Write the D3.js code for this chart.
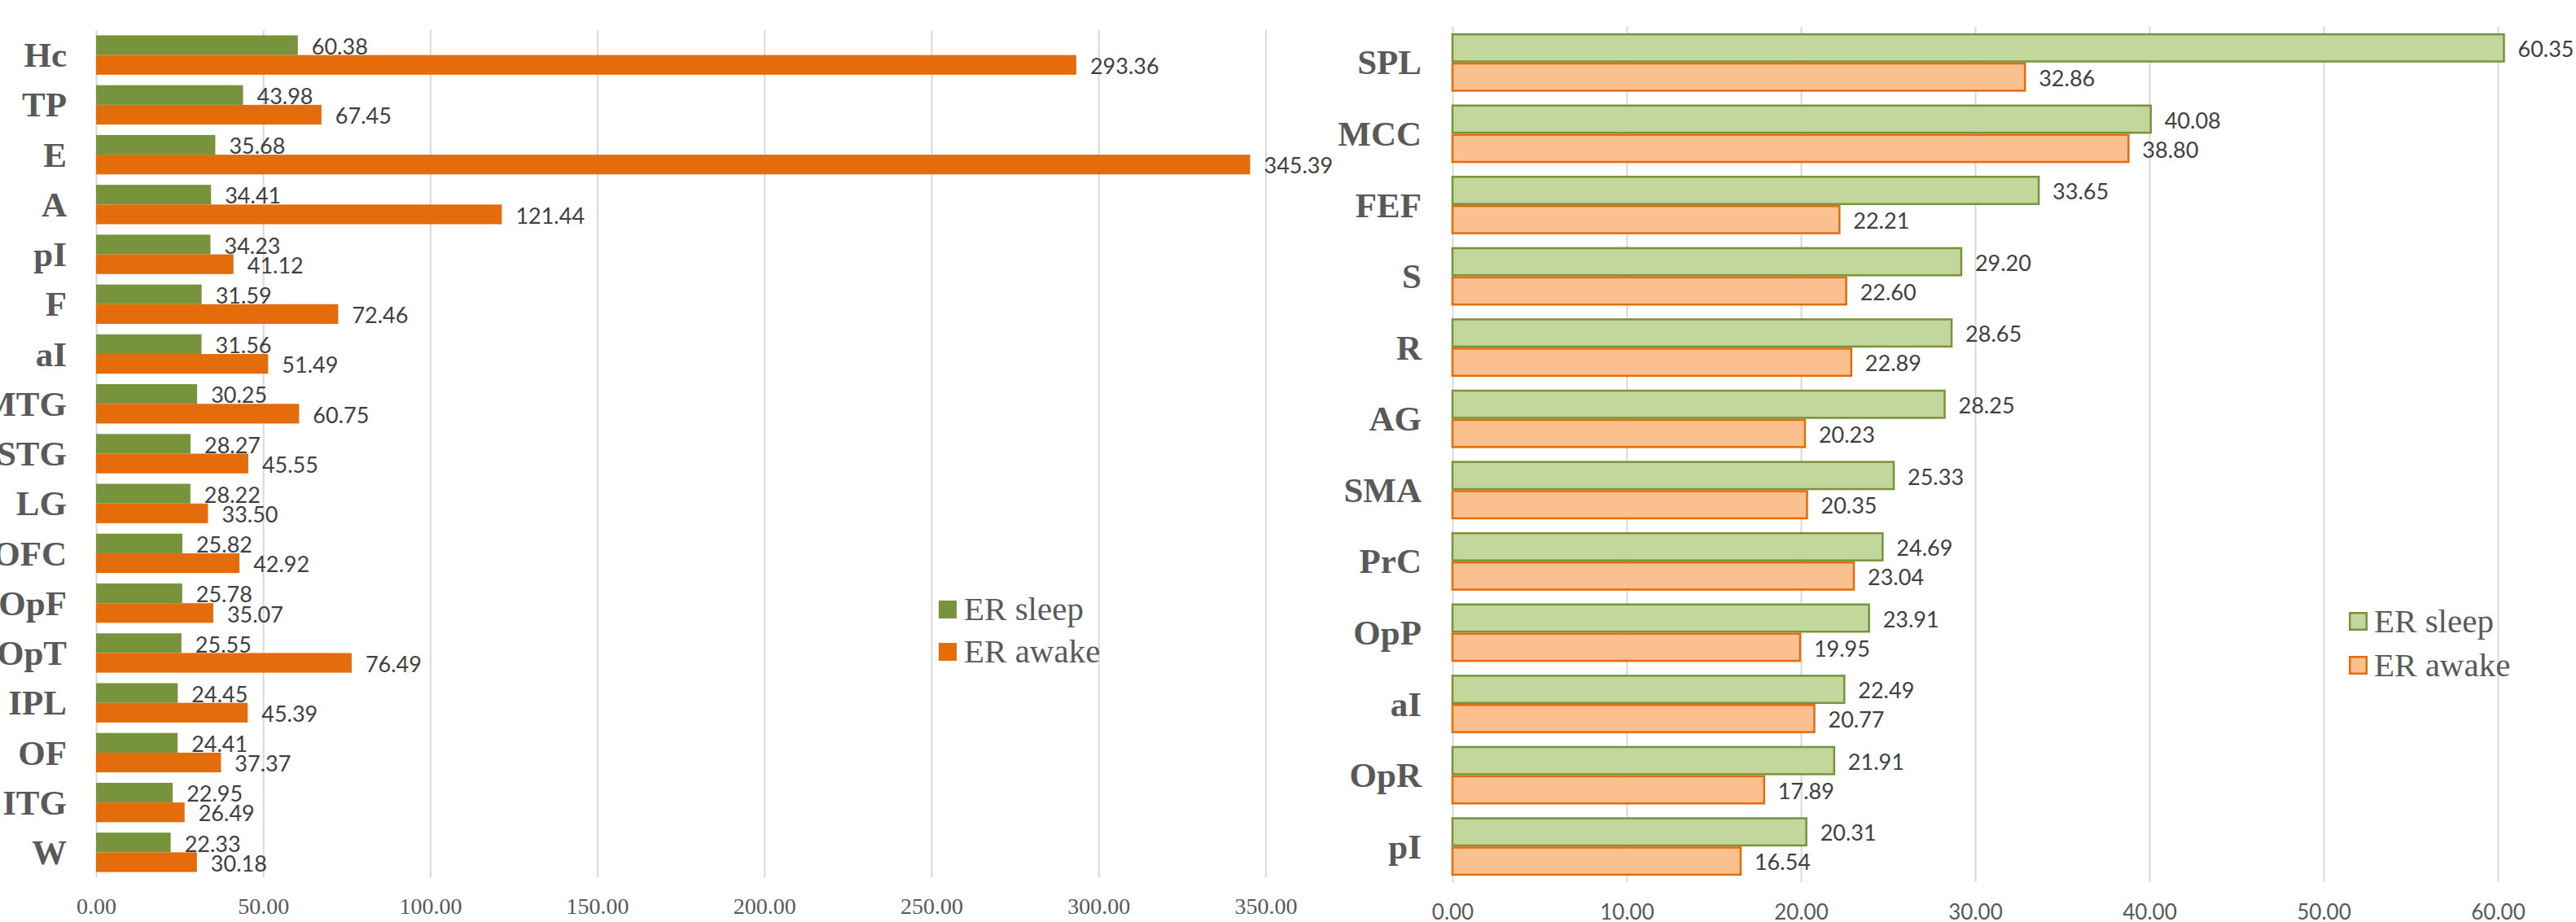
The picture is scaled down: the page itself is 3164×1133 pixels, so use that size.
<!DOCTYPE html>
<html>
<head>
<meta charset="utf-8">
<script src="https://cdn.jsdelivr.net/npm/d3@7"></script>
<style>
  html, body { margin: 0; padding: 0; background: #fff; }
  svg { display: block; }
</style>
</head>
<body>
<svg id="chart" width="3164" height="1133"></svg>
<script>
// Regions ranked by ER sleep (left panel)
const leftRegions = ["Hc","TP","E","A","pI","F","aI","MTG","STG","LG","OFC","OpF","OpT","IPL","OF","ITG","W"];
const leftSleep   = [60.38,43.98,35.68,34.41,34.23,31.59,31.56,30.25,28.27,28.22,25.82,25.78,25.55,24.45,24.41,22.95,22.33];
const leftAwake   = [293.36,67.45,345.39,121.44,41.12,72.46,51.49,60.75,45.55,33.50,42.92,35.07,76.49,45.39,37.37,26.49,30.18];
const leftTicks   = [0,50,100,150,200,250,300,350];

// Regions ranked by ER sleep (right panel)
const rightRegions = ["SPL","MCC","FEF","S","R","AG","SMA","PrC","OpP","aI","OpR","pI"];
const rightSleep   = [60.35,40.08,33.65,29.20,28.65,28.25,25.33,24.69,23.91,22.49,21.91,20.31];
const rightAwake   = [32.86,38.80,22.21,22.60,22.89,20.23,20.35,23.04,19.95,20.77,17.89,16.54];
const rightTicks   = [0,10,20,30,40,50,60];

const seriesNames = ["ER sleep","ER awake"];

const svg = d3.select("#chart");
const fmt = d3.format(".2f");

function panel(cfg) {
  const g = svg.append("g");
  const x = d3.scaleLinear().domain(cfg.domain).range([cfg.x0, cfg.x1]);
  const y = d3.scaleBand().domain(cfg.cats).range([cfg.top, cfg.bottom])
              .paddingInner(cfg.pad).paddingOuter(cfg.pad / 2);
  const ySub = d3.scaleBand().domain(seriesNames).range([0, y.bandwidth()]);

  // gridlines + tick labels
  const axis = d3.axisBottom(x).tickValues(cfg.ticks).tickFormat(fmt)
                 .tickSizeInner(-(cfg.bottom - cfg.top)).tickSizeOuter(0);
  const ax = g.append("g").attr("transform", `translate(0,${cfg.bottom})`).call(axis);
  ax.select(".domain").remove();
  ax.selectAll(".tick line").attr("stroke", "#d9d9d9").attr("stroke-width", 2);
  ax.selectAll(".tick text")
    .attr("y", cfg.tickBaseline).attr("dy", null)
    .attr("fill", "#595959")
    .style("font-family", cfg.tickFont)
    .style("font-size", cfg.tickSize + "px");

  // category labels
  g.append("g").selectAll("text").data(cfg.cats).join("text")
    .attr("x", cfg.x0 - cfg.catGap)
    .attr("y", d => y(d) + y.bandwidth() / 2)
    .attr("dy", "0.34em")
    .attr("text-anchor", "end")
    .attr("fill", "#595959")
    .style("font-family", "'Liberation Serif','Times New Roman',serif")
    .style("font-weight", "bold")
    .style("font-size", "43px")
    .text(d => d);

  const rows = cfg.cats.map((c, i) => ({ cat: c, vals: [cfg.sleep[i], cfg.awake[i]] }));
  const grp = g.append("g").selectAll("g").data(rows).join("g")
    .attr("transform", d => `translate(0,${y(d.cat)})`);

  const cells = grp.selectAll("g").data(d => d.vals.map((v, k) => ({ v, s: seriesNames[k], k })))
    .join("g");

  cells.append("rect")
    .attr("x", x(0))
    .attr("y", d => ySub(d.s) + cfg.sw / 2)
    .attr("width", d => x(d.v) - x(0))
    .attr("height", ySub.bandwidth() - cfg.sw)
    .attr("fill", d => cfg.fill[d.k])
    .attr("stroke", d => cfg.stroke ? cfg.stroke[d.k] : "none")
    .attr("stroke-width", cfg.sw);

  cells.append("text")
    .attr("x", d => x(d.v) + 17)
    .attr("y", d => ySub(d.s) + ySub.bandwidth() / 2 + 1.5)
    .attr("dy", "0.36em")
    .attr("fill", "#404040")
    .style("font-family", "Lato, 'Open Sans', sans-serif")
    .style("font-size", "27px")
    .text(d => fmt(d.v));

  // legend
  const lg = g.append("g");
  seriesNames.forEach((s, k) => {
    lg.append("rect")
      .attr("x", cfg.legend.x + cfg.sw / 2)
      .attr("y", cfg.legend.y + k * cfg.legend.step + cfg.sw / 2)
      .attr("width", cfg.legend.size - cfg.sw)
      .attr("height", cfg.legend.size - cfg.sw)
      .attr("fill", cfg.fill[k])
      .attr("stroke", cfg.stroke ? cfg.stroke[k] : "none")
      .attr("stroke-width", cfg.sw);
    lg.append("text")
      .attr("x", cfg.legend.tx)
      .attr("y", cfg.legend.ty + k * cfg.legend.step)
      .attr("fill", "#595959")
      .style("font-family", "'Liberation Serif','Times New Roman',serif")
      .style("font-size", "41px")
      .text(s);
  });
}

panel({
  cats: leftRegions, sleep: leftSleep, awake: leftAwake, ticks: leftTicks,
  domain: [0, 350], x0: 118, x1: 118 + 350 * 4.104,
  top: 37, bottom: 1078, pad: 0.21,
  fill: ["#77933c", "#e46c0a"], stroke: null, sw: 0,
  tickFont: "'Liberation Serif','Times New Roman',serif", tickSize: 28, tickBaseline: 45,
  catGap: 36,
  legend: { x: 1153, y: 738, size: 22, step: 52, tx: 1184, ty: 762 }
});

panel({
  cats: rightRegions, sleep: rightSleep, awake: rightAwake, ticks: rightTicks,
  domain: [0, 60], x0: 1784, x1: 1784 + 60 * 21.4,
  top: 33, bottom: 1084, pad: 0.18,
  fill: ["#c3d69b", "#fac090"], stroke: ["#77933c", "#e46c0a"], sw: 2.5,
  tickFont: "Lato, 'Open Sans', sans-serif", tickSize: 26, tickBaseline: 46,
  catGap: 38,
  legend: { x: 2885, y: 752, size: 23, step: 54, tx: 2916, ty: 777 }
});
</script>
</body>
</html>
